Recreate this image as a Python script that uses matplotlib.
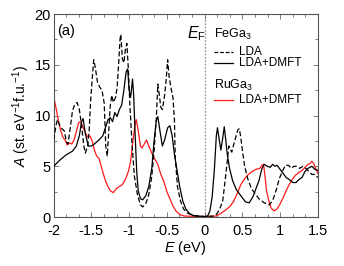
import matplotlib
matplotlib.use("Agg")
import matplotlib.pyplot as plt
from matplotlib.ticker import MultipleLocator

plt.rcParams['font.family'] = ['Liberation Sans', 'DejaVu Sans']
plt.rcParams['mathtext.fontset'] = 'custom'
plt.rcParams['mathtext.rm'] = 'Liberation Sans'
plt.rcParams['mathtext.it'] = 'Liberation Sans:italic'

# FeGa3 LDA+DMFT (solid black)
dmft_E = [-2.0, -1.92, -1.84, -1.75, -1.70, -1.66, -1.63, -1.61, -1.58, -1.54, -1.50, -1.46,
          -1.40, -1.35, -1.31, -1.28, -1.25, -1.22, -1.19, -1.16, -1.13, -1.10, -1.07, -1.04,
          -1.02, -1.00, -0.98, -0.955, -0.94, -0.92, -0.90, -0.88, -0.85, -0.82, -0.78, -0.74,
          -0.70, -0.67, -0.64, -0.62, -0.59, -0.56, -0.53, -0.49, -0.46, -0.43, -0.40, -0.37,
          -0.33, -0.29, -0.25, -0.20, -0.15, -0.10, 0.0, 0.04, 0.07, 0.10, 0.13, 0.155, 0.17,
          0.19, 0.215, 0.24, 0.26, 0.28, 0.30, 0.33, 0.37, 0.42, 0.48, 0.54, 0.59, 0.64, 0.68,
          0.72, 0.76, 0.79, 0.83, 0.87, 0.90, 0.93, 0.96, 1.00, 1.04, 1.08, 1.12, 1.17, 1.21,
          1.25, 1.29, 1.33, 1.37, 1.42, 1.46, 1.50]
dmft_A = [5.0, 5.6, 6.1, 6.5, 7.0, 8.0, 9.4, 9.7, 8.2, 7.0, 7.0, 7.2,
          7.6, 8.0, 8.9, 9.6, 9.8, 9.4, 10.3, 9.9, 10.6, 11.0, 12.5, 14.3,
          14.6, 12.5, 11.8, 13.6, 12.0, 8.0, 4.5, 2.6, 1.8, 1.7, 2.1, 3.0,
          4.8, 7.5, 9.5, 9.9, 8.4, 7.0, 7.6, 8.8, 9.0, 8.0, 6.2, 4.8,
          3.0, 1.6, 0.8, 0.35, 0.15, 0.1, 0.05, 0.1, 0.6, 2.0, 4.8, 8.0, 8.8,
          7.8, 6.6, 7.8, 8.9, 7.6, 6.2, 4.8, 3.6, 2.7, 2.1, 1.5, 1.4, 2.0, 2.8,
          3.6, 4.8, 5.2, 5.0, 4.9, 5.2, 5.0, 5.1, 4.7, 4.3, 3.9, 3.7, 3.4, 3.4,
          3.7, 3.9, 4.5, 4.8, 5.0, 4.7, 4.6]

# FeGa3 LDA (dashed black)
lda_E = [-2.0, -1.97, -1.95, -1.92, -1.89, -1.86, -1.83, -1.81, -1.78, -1.75, -1.72, -1.69,
         -1.66, -1.63, -1.60, -1.58, -1.55, -1.53, -1.51, -1.49, -1.47, -1.45, -1.42, -1.39,
         -1.36, -1.33, -1.31, -1.29, -1.27, -1.25, -1.23, -1.21, -1.18, -1.16, -1.14, -1.12,
         -1.11, -1.09, -1.07, -1.05, -1.03, -1.01, -0.99, -0.96, -0.93, -0.89, -0.85, -0.82,
         -0.78, -0.74, -0.70, -0.67, -0.64, -0.62, -0.60, -0.58, -0.56, -0.53, -0.51, -0.49,
         -0.47, -0.44, -0.42, -0.40, -0.39, -0.36, -0.32, -0.28, -0.23, -0.15, 0.0, 0.12,
         0.16, 0.20, 0.24, 0.27, 0.30, 0.32, 0.34, 0.36, 0.38, 0.41, 0.44, 0.46, 0.48, 0.50,
         0.53, 0.57, 0.62, 0.66, 0.72, 0.79, 0.86, 0.91, 0.95, 0.99, 1.03, 1.07, 1.11, 1.15,
         1.18, 1.22, 1.26, 1.30, 1.34, 1.38, 1.42, 1.46, 1.50]
lda_A = [7.6, 9.0, 9.6, 9.0, 8.7, 8.5, 7.4, 7.2, 8.8, 10.5, 11.1, 11.3,
         10.6, 9.0, 7.0, 6.3, 7.0, 8.5, 11.5, 13.5, 15.5, 14.8, 13.3, 12.8,
         12.5, 11.2, 7.0, 6.0, 8.5, 11.0, 12.0, 11.3, 11.8, 12.7, 15.0, 17.6,
         18.0, 15.6, 15.2, 16.5, 17.1, 14.5, 11.0, 7.0, 4.0, 2.2, 1.2, 1.0,
         1.3, 2.2, 4.0, 6.5, 9.8, 13.1, 12.0, 10.8, 10.6, 12.0, 13.5, 15.5,
         13.8, 12.5, 11.8, 9.6, 6.0, 3.0, 1.6, 0.8, 0.4, 0.15, 0.05, 0.1,
         0.3, 0.8, 1.6, 3.5, 5.5, 7.0, 6.7, 6.4, 7.0, 7.8, 8.6, 8.7, 7.8, 6.6,
         5.0, 3.8, 2.8, 2.4, 1.8, 1.4, 1.2, 1.8, 2.7, 3.8, 4.5, 5.1, 5.1, 4.8,
         5.0, 5.0, 4.8, 5.0, 4.8, 4.5, 4.2, 4.2, 3.9]

# RuGa3 LDA+DMFT (red)
ru_E = [-2.0, -1.97, -1.94, -1.91, -1.88, -1.85, -1.82, -1.79, -1.76, -1.73, -1.70, -1.67,
        -1.64, -1.61, -1.58, -1.55, -1.52, -1.49, -1.46, -1.43, -1.40, -1.37, -1.34, -1.31,
        -1.28, -1.25, -1.21, -1.17, -1.13, -1.09, -1.05, -1.01, -0.98, -0.95, -0.92, -0.905,
        -0.88, -0.85, -0.83, -0.80, -0.77, -0.74, -0.70, -0.66, -0.62, -0.58, -0.54, -0.50,
        -0.46, -0.42, -0.38, -0.33, -0.27, 0.0, 0.15, 0.20, 0.26, 0.33, 0.38, 0.43, 0.48,
        0.53, 0.58, 0.63, 0.68, 0.73, 0.76, 0.78, 0.80, 0.82, 0.85, 0.88, 0.92, 0.96, 1.00,
        1.04, 1.08, 1.12, 1.16, 1.20, 1.25, 1.29, 1.33, 1.37, 1.40, 1.42, 1.45, 1.47, 1.50]
ru_A = [11.9, 10.8, 9.6, 8.6, 7.9, 7.6, 7.1, 7.3, 7.2, 7.6, 8.4, 9.3,
        9.4, 8.8, 8.3, 7.9, 8.0, 7.5, 6.6, 6.0, 5.8, 5.0, 4.2, 3.5,
        3.0, 2.6, 2.4, 2.8, 3.0, 3.2, 3.7, 4.5, 5.5, 7.5, 9.2, 9.6,
        8.5, 7.0, 6.8, 7.2, 7.6, 7.0, 6.3, 5.7, 5.2, 4.2, 3.5, 2.5,
        1.8, 1.1, 0.6, 0.25, 0.1, 0.05, 0.1, 0.3, 0.6, 1.0, 1.5, 2.3, 3.2,
        3.8, 4.2, 4.5, 4.7, 4.8, 5.1, 5.2, 4.0, 2.6, 1.6, 0.9, 0.6, 0.8, 1.3,
        1.9, 2.6, 3.2, 3.7, 4.1, 4.4, 4.6, 4.9, 5.2, 5.3, 5.5, 5.2, 4.8, 4.3]

fig = plt.figure(figsize=(3.44, 2.66), dpi=100)
ax = fig.add_axes([0.156, 0.184, 0.768, 0.763])

ax.axvline(0, color='#999999', lw=0.9, ls=(0, (1.5, 1.2)), zorder=1)
ax.plot(ru_E, ru_A, color='#ff1a1a', lw=0.9, zorder=2)
ax.plot(lda_E, lda_A, color='black', lw=0.9, ls=(0, (4, 2)), zorder=3)
ax.plot(dmft_E, dmft_A, color='black', lw=0.9, zorder=4)

ax.set_xlim(-2, 1.5)
ax.set_ylim(0, 20)
ax.xaxis.set_minor_locator(MultipleLocator(0.5 / 3))
ax.yaxis.set_major_locator(MultipleLocator(5))
ax.yaxis.set_minor_locator(MultipleLocator(2.5))
ax.set_xticks([-2, -1.5, -1, -0.5, 0, 0.5, 1, 1.5])
ax.set_xticklabels(['-2', '-1.5', '-1', '-0.5', '0', '0.5', '1', '1.5'])
ax.tick_params(which='both', direction='in', top=True, right=True, labelsize=10.5,
               width=0.6, color='#666666')
ax.tick_params(axis='x', which='both', pad=5)
ax.tick_params(axis='y', which='both', pad=2)
ax.tick_params(which='major', length=3.5)
ax.tick_params(which='minor', length=2)
for s in ax.spines.values():
    s.set_linewidth(0.8)
    s.set_color('#555555')

ax.set_xlabel('$E$ (eV)', fontsize=10.5, labelpad=0.5)
ax.set_ylabel('$A$ (st. eV$^{-1}$f.u.$^{-1}$)', fontsize=10, labelpad=2)

ax.text(-1.95, 18.3, '(a)', fontsize=10.5, ha='left', va='center')
ax.text(0.02, 18.1, '$E_\\mathrm{F}$', fontsize=11.5, ha='right', va='center')

# legend drawn manually
ax.text(0.13, 17.96, 'FeGa$_3$', fontsize=9, ha='left', va='center')
ax.plot([0.13, 0.38], [16.29, 16.29], color='black', lw=0.9, ls=(0, (3, 1.5)))
ax.text(0.46, 16.29, 'LDA', fontsize=8.5, ha='left', va='center')
ax.plot([0.13, 0.38], [15.2, 15.2], color='black', lw=0.9)
ax.text(0.46, 15.2, 'LDA+DMFT', fontsize=8.5, ha='left', va='center')
ax.text(0.13, 12.99, 'RuGa$_3$', fontsize=9, ha='left', va='center')
ax.plot([0.13, 0.38], [11.5, 11.5], color='#ff1a1a', lw=0.9)
ax.text(0.46, 11.5, 'LDA+DMFT', fontsize=8.5, ha='left', va='center')

fig.savefig('out.png', dpi=100)
